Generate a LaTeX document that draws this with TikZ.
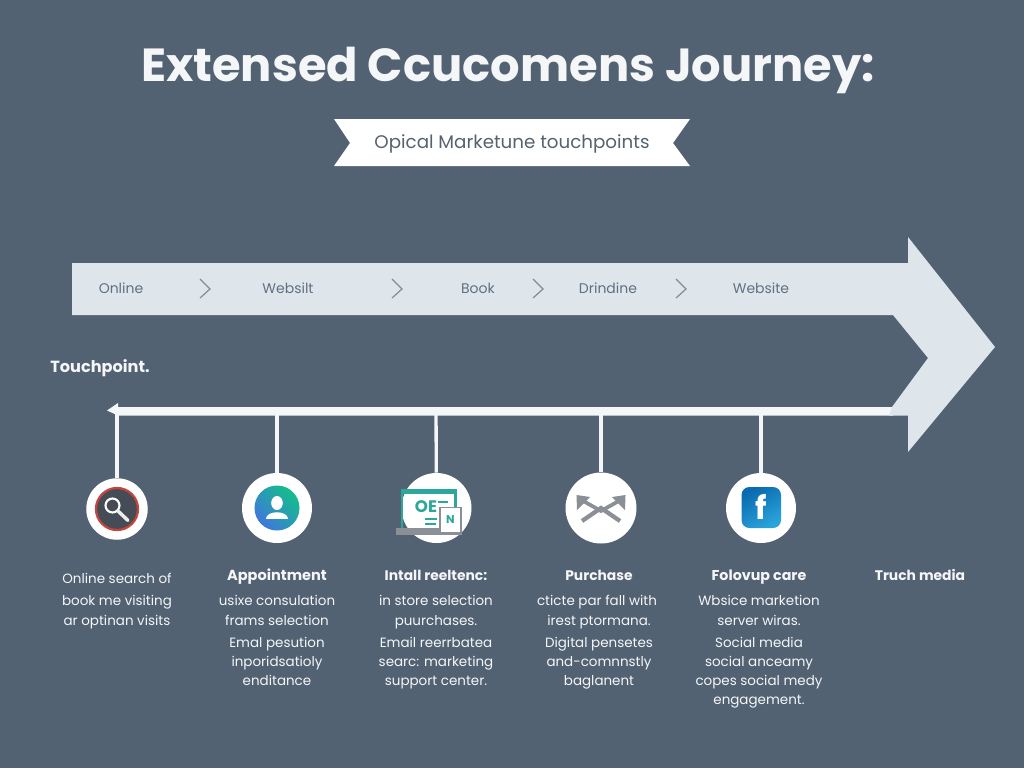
\documentclass[tikz,border=0pt]{standalone}
\usepackage{fontspec}
\setmainfont{Poppins}
\definecolor{bg}{HTML}{536273}
\definecolor{band}{HTML}{DFE6EB}
\definecolor{bandtext}{HTML}{5F7083}
\definecolor{chev}{HTML}{7D8C9B}
\definecolor{ribbontext}{HTML}{55636F}
\definecolor{ink}{HTML}{F4F6F8}
\definecolor{tealicon}{HTML}{2BA79B}
\definecolor{greyicon}{HTML}{8A9096}
\definecolor{lensbg}{HTML}{454C55}
\definecolor{lensring}{HTML}{C0463F}
\definecolor{persona}{HTML}{14BE8A}
\definecolor{personb}{HTML}{3F78DC}
\definecolor{fba}{HTML}{0A6AB0}
\definecolor{fbb}{HTML}{2AA4DA}
\tikzset{
  bandlabel/.style={font=\fontsize{10.5}{12}\selectfont,text=bandtext,inner sep=0pt,anchor=center,text height=9pt,text depth=1.5pt},
  chevron/.style={draw=chev,line width=0.9pt,line join=miter},
  stem/.style={draw=ink,line width=2.5pt},
  disc/.style={circle,fill=white,draw=none,inner sep=0pt},
  head/.style={font=\fontsize{10.4}{12}\selectfont\bfseries,text=ink,inner sep=0pt,align=center,text height=9pt,text depth=1.5pt},
  body/.style={font=\fontsize{10.1}{11}\selectfont,text=ink,inner sep=0pt,align=center,text height=9pt,text depth=1.5pt},
}
\begin{document}
\begin{tikzpicture}[x=0.75pt,y=-0.75pt]
\useasboundingbox (0,0) rectangle (1024,768);
\fill[bg] (0,0) rectangle (1024,768);
% title
\node[font=\fontsize{34.8}{38}\selectfont\bfseries,text=ink,inner sep=0pt,anchor=base] (title) at (508,81) {Extensed Ccucomens Journey:};
% ribbon
\fill[white] (334,119) -- (690,119) -- (673,143) -- (690,166) -- (334,166) -- (350,143) -- cycle;
\node[font=\fontsize{13.7}{15}\selectfont,text=ribbontext,inner sep=0pt,anchor=base] (sub) at (512,148) {Opical Marketune touchpoints};
% timeline
\fill[ink] (893,407) -- (118,407) -- (118,403) -- (107,410.5) -- (118,415.5) -- (893,415.5) -- cycle;
% big arrow
\fill[band] (72,263) -- (908,263) -- (908,237) -- (995,347) -- (908,452) -- (908,415.5) -- (889,415.5) -- (892,407) -- (928,358) -- (893,315) -- (72,315) -- cycle;
% band labels
\node[bandlabel] (b1) at (121,288) {Online};
\node[bandlabel] (b2) at (288,288) {Websilt};
\node[bandlabel] (b3) at (478,288) {Book};
\node[bandlabel] (b4) at (608,288) {Drindine};
\node[bandlabel] (b5) at (761,288) {Website};
\foreach \x in {200,392,533,676}
  \draw[chevron] (\x,279) -- (\x+10,289) -- (\x,298);
\node[font=\fontsize{12.1}{13}\selectfont\bfseries,text=ink,inner sep=0pt,anchor=base] (tp) at (100,372) {Touchpoint.};
\coordinate (l1) at (117,411);
\coordinate (l2) at (277,411);
\coordinate (l3) at (436,411);
\coordinate (l4) at (601,411);
\coordinate (l5) at (761,411);
% discs
\node[disc,minimum size=61.5*0.75pt] (d1) at (117,509) {};
\node[disc,minimum size=70*0.75pt] (d2) at (277,508) {};
\node[disc,minimum size=70*0.75pt] (d3) at (436.5,508) {};
\node[disc,minimum size=71*0.75pt] (d4) at (601,508) {};
\node[disc,minimum size=70*0.75pt] (d5) at (761,508) {};
\draw[stem] (l1) -- (d1);
\draw[stem] (l2) -- (d2);
\draw[stem] (l3) -- (d3);
\draw[stem] (l4) -- (d4);
\draw[stem] (l5) -- (d5);
% icon 1: search
\fill[lensbg] (117,509) circle[radius=21];
\draw[lensring,line width=1.7pt] (117,509) circle[radius=21];
\draw[white,line width=1.6pt] (112.5,505.5) circle[radius=7];
\draw[white!85!gray,line width=2.6pt,line cap=round] (118,511) -- (128,520.5);
% icon 2: person
\shade[left color=persona,right color=personb,shading angle=-45] (277,508) circle[radius=22.5];
\fill[white] (277,503) ellipse[x radius=5.8,y radius=7];
\fill[white] (266,518.5) .. controls (266,510) and (288,510) .. (288,518.5) -- cycle;
% icon 3: laptop and tablet
\fill[tealicon] (401,489) rectangle (457,494);
\fill[tealicon] (454,489) rectangle (457,507);
\draw[tealicon,line width=1.1pt] (402,490) -- (402,529);
\fill[greyicon] (396,528) rectangle (462,534.5);
\node[font=\fontsize{12.5}{12}\selectfont\bfseries,text=tealicon,inner sep=0pt] (oe) at (426,507) {OE};
\fill[tealicon] (438,501) rectangle (448,503);
\fill[tealicon] (425,517.5) rectangle (437,519.5);
\fill[tealicon] (425,523) rectangle (436,525);
\draw[greyicon,fill=white,line width=1.4pt] (440,507.5) rectangle (461,533);
\node[font=\fontsize{8.5}{8}\selectfont\bfseries,text=tealicon,inner sep=0pt] (nn) at (450.5,520) {N};
% icon 4: crossed arrows
\draw[greyicon,line width=2.8pt] (578,498) -- (601,511) -- (624,498);
\draw[greyicon,line width=3.2pt] (582,521) -- (601,508) -- (620,521);
\fill[greyicon] (576.5,495) -- (590,497) -- (577,510) -- cycle;
\fill[greyicon] (625.5,495) -- (612,497) -- (625,510) -- cycle;
% icon 5: f square
\shade[rounded corners=6pt,left color=fba,right color=fbb,shading angle=30] (741.5,487) rectangle (781,528);
\node[font=\fontsize{24}{24}\selectfont\bfseries,text=white,inner sep=0pt] (ff) at (761,507) {f};
% texts
\node[body] (t1) at (117,578) {Online search of};
\node[body] at (117,600) {book me visiting};
\node[body] at (117,620) {ar optinan visits};
\node[head,font=\fontsize{10.9}{12}\selectfont\bfseries] (h2) at (277,575.5) {Appointment};
\node[body] at (277,600) {usixe consulation};
\node[body] at (277,620) {frams selection};
\node[body] at (277,642) {Emal pesution};
\node[body] at (277,661) {inporidsatioly};
\node[body] at (277,680.5) {enditance};
\node[head] (h3) at (436,575.5) {Intall reeltenc:};
\node[body] at (436,600) {in store selection};
\node[body] at (436,620) {puurchases.};
\node[body] at (436,642) {Email reerrbatea};
\node[body] at (436,661) {searc: marketing};
\node[body] at (436,680.5) {support center.};
\node[head] (h4) at (599,575.5) {Purchase};
\node[body] at (597,600) {cticte par fall with};
\node[body] at (599,620) {irest ptormana.};
\node[body] at (599,642) {Digital pensetes};
\node[body] at (599,661) {and-comnnstly};
\node[body] at (599,680.5) {baglanent};
\node[head,font=\fontsize{10.7}{12}\selectfont\bfseries] (h5) at (759,575.5) {Folovup care};
\node[body] at (759,600) {Wbsice marketion};
\node[body] at (759,620) {server wiras.};
\node[body] at (759,642) {Social media};
\node[body] at (759,661) {social anceamy};
\node[body] at (759,680.5) {copes social medy};
\node[body] at (759,699.5) {engagement.};
\node[head] (h6) at (920,575.5) {Truch media};
\end{tikzpicture}
\end{document}
